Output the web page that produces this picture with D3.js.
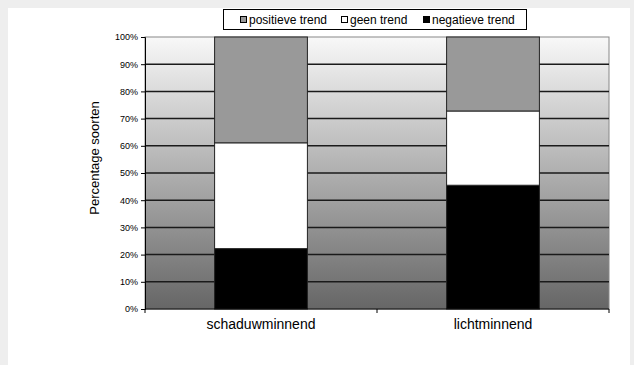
<!DOCTYPE html>
<html>
<head>
<meta charset="utf-8">
<script src="https://cdn.jsdelivr.net/npm/d3@7"></script>
<style>
  html, body { margin: 0; background: #fff; overflow: hidden; }
  #viz svg { display: block; }
</style>
</head>
<body>
<div id="viz"></div>
<script>
const categories = ['schaduwminnend', 'lichtminnend']
const negatief = [22.2, 45.5]
const geen = [38.9, 27.3]
const positief = [38.9, 27.2]
const yTicks = [0, 10, 20, 30, 40, 50, 60, 70, 80, 90, 100]

const seriesNames = ['negatieve trend', 'geen trend', 'positieve trend']
const legendOrder = ['positieve trend', 'geen trend', 'negatieve trend']
const colors = { 'negatieve trend': '#000000', 'geen trend': '#ffffff', 'positieve trend': '#999999' }

const render = () => {
    const w = 634, h = 365

    const svg = d3.select('#viz')
        .append('svg')
        .attr('width', w)
        .attr('height', h)

    // grey page strips round the white panel (top, left, right)
    const strips = [[0, 0, w, 8], [0, 0, 8, h], [630, 0, 4, h]]
    svg.selectAll('rect.strip')
        .data(strips)
        .enter()
        .append('rect')
        .attr('class', 'strip')
        .attr('x', d => d[0]).attr('y', d => d[1])
        .attr('width', d => d[2]).attr('height', d => d[3])
        .attr('fill', '#eeeeee')

    const margin = { top: 37, right: 25, bottom: 56, left: 145 }
    const innerWidth = w - margin.left - margin.right
    const innerHeight = h - margin.top - margin.bottom

    const g = svg.append('g')
        .attr('transform', `translate(${margin.left}, ${margin.top})`)

    const grad = svg.append('defs').append('linearGradient')
        .attr('id', 'bg')
        .attr('x1', 0).attr('y1', 0).attr('x2', 0).attr('y2', 1)
    grad.append('stop').attr('offset', '0%').attr('stop-color', '#f8f8f8')
    grad.append('stop').attr('offset', '100%').attr('stop-color', '#666666')

    g.append('rect')
        .attr('width', innerWidth)
        .attr('height', innerHeight)
        .attr('fill', 'url(#bg)')
        .attr('stroke', '#888')

    const y = d3.scaleLinear()
        .domain([0, 100])
        .range([innerHeight, 0])

    const x = d3.scaleBand()
        .domain(categories)
        .range([0, innerWidth])
        .paddingInner(0)
        .paddingOuter(0)

    // gridlines
    g.selectAll('line.grid')
        .data(yTicks.filter(d => d > 0 && d < 100))
        .enter()
        .append('line')
        .attr('class', 'grid')
        .attr('x1', 0).attr('x2', innerWidth)
        .attr('y1', d => y(d)).attr('y2', d => y(d))
        .attr('stroke', '#1a1a1a')
        .attr('stroke-width', 1.5)

    const table = categories.map((c, i) => ({
        cat: c,
        'negatieve trend': negatief[i],
        'geen trend': geen[i],
        'positieve trend': positief[i]
    }))
    const stacked = d3.stack().keys(seriesNames)(table)

    const barW = x.bandwidth() * 0.4
    stacked.forEach(s => {
        g.selectAll(null)
            .data(s)
            .enter()
            .append('rect')
            .attr('x', d => x(d.data.cat) + (x.bandwidth() - barW) / 2)
            .attr('y', d => y(d[1]))
            .attr('width', barW)
            .attr('height', d => y(d[0]) - y(d[1]))
            .attr('fill', colors[s.key])
            .attr('stroke', '#222')
            .attr('stroke-width', 1)
    })

    const yAxisG = g.append('g')
        .call(d3.axisLeft(y).tickValues(yTicks).tickFormat(d => d + '%').tickSize(4).tickPadding(3))
    yAxisG.select('.domain').attr('stroke', '#000')
    yAxisG.selectAll('text')
        .attr('font-family', 'Liberation Sans, Arial, sans-serif')
        .attr('font-size', 9)
        .attr('fill', '#000')

    g.append('text')
        .attr('x', -innerHeight / 2 + 15)
        .attr('y', -46)
        .attr('transform', 'rotate(-90)')
        .attr('text-anchor', 'middle')
        .attr('font-family', 'Liberation Sans, Arial, sans-serif')
        .attr('font-size', 13)
        .text('Percentage soorten')

    const xAxisG = g.append('g')
        .attr('transform', `translate(0, ${innerHeight})`)
    xAxisG.append('path')
        .attr('d', `M0,0H${innerWidth}`)
        .attr('stroke', '#000')
    xAxisG.selectAll('line.tk')
        .data([0, innerWidth / 2, innerWidth])
        .enter()
        .append('line')
        .attr('x1', d => d).attr('x2', d => d)
        .attr('y1', 0).attr('y2', 4)
        .attr('stroke', '#000')
    xAxisG.selectAll('text')
        .data(categories)
        .enter()
        .append('text')
        .attr('x', d => x(d) + x.bandwidth() / 2)
        .attr('y', 20)
        .attr('text-anchor', 'middle')
        .attr('font-family', 'Liberation Sans, Arial, sans-serif')
        .attr('font-size', 14)
        .text(d => d)

    // legend
    const lg = svg.append('g').attr('transform', 'translate(223, 9)')
    lg.append('rect')
        .attr('x', 0.5).attr('y', 0.5)
        .attr('width', 303).attr('height', 20)
        .attr('fill', '#fff')
        .attr('stroke', '#000')
    const lx = [17, 118, 200]
    legendOrder.forEach((k, i) => {
        lg.append('rect')
            .attr('x', lx[i] + 0.5).attr('y', 7.5)
            .attr('width', 6).attr('height', 6)
            .attr('fill', colors[k])
            .attr('stroke', '#000')
        lg.append('text')
            .attr('x', lx[i] + 9)
            .attr('y', 15)
            .attr('font-family', 'Liberation Sans, Arial, sans-serif')
            .attr('font-size', 12)
            .text(k)
    })
}

render()
</script>
</body>
</html>
